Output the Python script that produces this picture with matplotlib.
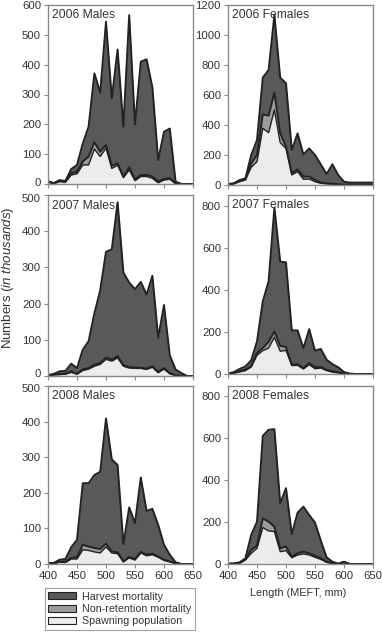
import numpy as np
import matplotlib
matplotlib.use("Agg")
import matplotlib.pyplot as plt
from matplotlib.patches import Patch
from matplotlib.transforms import ScaledTranslation

plt.rcParams['font.family'] = ['Liberation Sans', 'DejaVu Sans']
plt.rcParams['mathtext.fontset'] = 'custom'
plt.rcParams['mathtext.rm'] = 'Liberation Sans'
plt.rcParams['mathtext.it'] = 'Liberation Sans:italic'

lengths = np.arange(400, 651, 10)

# ---- 2006 Males ----
m06_total = [10, 3, 13, 10, 50, 64, 136, 192, 371, 306, 544, 287, 451, 192, 566, 200, 410, 418, 324, 80, 175, 186, 8, 0, 0, 0]
m06_mid   = [8, 2, 10, 8, 36, 41, 75, 92, 140, 108, 131, 61, 69, 25, 56, 16, 30, 30, 25, 8, 17, 19, 2, 0, 0, 0]
m06_spawn = [6, 1, 8, 6, 30, 34, 64, 64, 117, 92, 120, 52, 63, 21, 47, 11, 25, 25, 19, 4, 13, 16, 1, 0, 0, 0]

# ---- 2006 Females ----
f06_total = [7, 11, 33, 44, 200, 300, 716, 767, 1133, 716, 678, 233, 344, 204, 244, 200, 138, 73, 138, 67, 22, 16, 16, 16, 16, 16]
f06_mid   = [4, 9, 29, 38, 144, 200, 471, 462, 616, 344, 256, 78, 104, 56, 56, 33, 16, 11, 9, 4, 2, 2, 2, 2, 2, 2]
f06_spawn = [3, 8, 22, 33, 118, 156, 378, 349, 500, 282, 244, 67, 89, 38, 40, 22, 11, 8, 6, 3, 1, 1, 1, 1, 1, 1]

# ---- 2007 Males ----
m07_total = [2, 6, 13, 14, 34, 22, 73, 96, 173, 237, 343, 350, 480, 286, 258, 240, 260, 225, 277, 106, 196, 57, 18, 8, 0, 0]
m07_mid   = [1, 4, 5, 6, 13, 6, 18, 22, 31, 36, 51, 45, 55, 30, 25, 23, 23, 20, 27, 11, 22, 8, 2, 0, 0, 0]
m07_spawn = [1, 3, 4, 5, 10, 5, 15, 19, 27, 32, 46, 41, 50, 27, 22, 21, 21, 18, 24, 9, 19, 6, 1, 0, 0, 0]

# ---- 2007 Females ----
f07_total = [2, 9, 24, 36, 65, 155, 345, 440, 790, 534, 530, 207, 207, 123, 213, 111, 119, 68, 47, 32, 9, 2, 0, 0, 0, 0]
f07_mid   = [0, 5, 13, 20, 36, 100, 123, 152, 202, 134, 128, 44, 47, 28, 52, 32, 33, 20, 13, 8, 2, 0, 0, 0, 0, 0]
f07_spawn = [0, 4, 10, 16, 33, 89, 111, 123, 174, 108, 112, 40, 41, 24, 44, 25, 28, 16, 9, 5, 1, 0, 0, 0, 0, 0]

# ---- 2008 Males ----
m08_total = [3, 3, 12, 14, 47, 68, 227, 227, 250, 259, 409, 294, 278, 56, 159, 115, 243, 149, 155, 110, 54, 26, 5, 0, 0, 0]
m08_mid   = [2, 2, 6, 6, 17, 19, 54, 49, 45, 42, 57, 35, 33, 7, 20, 14, 34, 26, 29, 21, 12, 7, 2, 0, 0, 0]
m08_spawn = [1, 1, 5, 4, 14, 14, 40, 38, 34, 31, 48, 31, 29, 6, 17, 11, 31, 23, 26, 19, 10, 6, 1, 0, 0, 0]

# ---- 2008 Females ----
f08_total = [2, 3, 8, 27, 139, 202, 612, 641, 644, 290, 362, 143, 245, 274, 234, 198, 112, 32, 11, 2, 11, 0, 0, 0, 0, 0]
f08_mid   = [0, 1, 5, 22, 67, 88, 218, 202, 178, 75, 83, 35, 51, 59, 51, 40, 27, 11, 3, 0, 8, 0, 0, 0, 0, 0]
f08_spawn = [0, 1, 4, 19, 51, 75, 174, 158, 155, 59, 64, 30, 43, 48, 43, 32, 22, 8, 3, 0, 6, 0, 0, 0, 0, 0]

panel_titles = ["2006 Males", "2006 Females", "2007 Males", "2007 Females", "2008 Males", "2008 Females"]
legend_labels = ["Harvest mortality", "Non-retention mortality", "Spawning population"]

c_harv = '#595959'
c_nonret = '#9c9c9c'
c_spawn = '#ececec'
c_line = '#222222'
c_spine = '#8a8a8a'
c_text = '#333333'

W, H = 382, 633
fig = plt.figure(figsize=(W / 100, H / 100), dpi=100)

def rect(left, top, right, bottom):
    return [left / W, 1 - bottom / H, (right - left) / W, (bottom - top) / H]

positions = [
    rect(48, 5, 193, 184), rect(228, 5, 373, 185),
    rect(48, 195, 193, 376), rect(228, 195, 373, 374),
    rect(48, 386, 193, 564), rect(228, 386, 373, 564),
]
datasets = [
    (m06_spawn, m06_mid, m06_total, 600, np.arange(0, 601, 100)),
    (f06_spawn, f06_mid, f06_total, 1200, np.arange(0, 1201, 200)),
    (m07_spawn, m07_mid, m07_total, 500, np.arange(0, 501, 100)),
    (f07_spawn, f07_mid, f07_total, 850, np.arange(0, 801, 200)),
    (m08_spawn, m08_mid, m08_total, 500, np.arange(0, 501, 100)),
    (f08_spawn, f08_mid, f08_total, 850, np.arange(0, 801, 200)),
]

up = ScaledTranslation(0, 2.5 / 100, fig.dpi_scale_trans)
down = ScaledTranslation(0, -2.5 / 100, fig.dpi_scale_trans)

for i, (pos, (sp, mid, tot, ymax, yt), title) in enumerate(zip(positions, datasets, panel_titles)):
    ax = fig.add_axes(pos)
    sp = np.array(sp, float); mid = np.array(mid, float); tot = np.array(tot, float)
    ax.fill_between(lengths, mid, tot, color=c_harv, lw=0)
    ax.fill_between(lengths, sp, mid, color=c_nonret, lw=0)
    ax.fill_between(lengths, 0, sp, color=c_spawn, lw=0)
    ax.plot(lengths, tot, color=c_line, lw=1.4)
    ax.plot(lengths, mid, color=c_line, lw=1.4)
    ax.plot(lengths, sp, color=c_line, lw=1.0)
    ax.set_xlim(400, 650)
    ax.set_ylim(0, ymax)
    ax.set_yticks(yt)
    ax.set_xticks(np.arange(400, 651, 50))
    for s in ax.spines.values():
        s.set_color(c_spine)
        s.set_linewidth(1.0)
    ax.tick_params(axis='both', direction='out', length=3, width=0.8, color=c_spine,
                   labelsize=8.2, labelcolor=c_text, pad=2)
    if i < 4:
        ax.tick_params(axis='x', labelbottom=False)
    # nudge crowded left-column labels apart between stacked panels
    if i in (0, 2):
        lab = ax.yaxis.get_major_ticks()[0].label1
        lab.set_transform(lab.get_transform() + up)
    if i in (2, 4):
        lab = ax.yaxis.get_major_ticks()[-1].label1
        lab.set_transform(lab.get_transform() + down)
    ax.text(0.03, 0.975, title, transform=ax.transAxes, ha='left', va='top',
            fontsize=8.7, color=c_text)

fig.text(8 / W, 1 - 278 / H, r'Numbers ($\mathit{in\ thousands}$)', rotation=90,
         ha='center', va='center', fontsize=9.5, color=c_text)
fig.text(298 / W, 1 - 593 / H, 'Length (MEFT, mm)', ha='center', va='center',
         fontsize=7.8, color=c_text)

handles = [Patch(facecolor=c_harv, edgecolor=c_line, lw=0.8),
           Patch(facecolor=c_nonret, edgecolor=c_line, lw=0.8),
           Patch(facecolor=c_spawn, edgecolor=c_line, lw=0.8)]
leg = fig.legend(handles, legend_labels, loc='center',
                 bbox_to_anchor=(48 / W, 1 - 632 / H, 144 / W, 46 / H),
                 frameon=True, fancybox=False, fontsize=7.7, handlelength=2.6,
                 handleheight=0.6, labelspacing=0.22, borderpad=0.3,
                 handletextpad=0.6, borderaxespad=0)
leg.get_frame().set_edgecolor(c_spine)
leg.get_frame().set_linewidth(0.8)
for t in leg.get_texts():
    t.set_color(c_text)

fig.savefig('out.png', dpi=100)
